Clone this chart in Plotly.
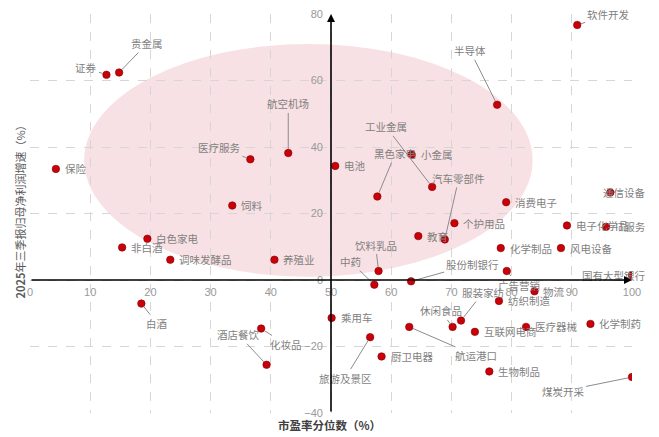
import plotly.graph_objects as go

# ---- data ----
industries = ["证券", "贵金属", "航空机场", "医疗服务", "保险", "饲料", "白色家电", "非白酒",
              "调味发酵品", "养殖业", "软件开发", "半导体", "电池", "黑色家电", "小金属", "工业金属",
              "汽车零部件", "教育", "个护用品", "消费电子", "通信设备", "电子化学品", "IT服务",
              "化学制品", "风电设备", "饮料乳品", "中药", "股份制银行", "广告营销", "国有大型银行",
              "物流", "纺织制造", "服装家纺", "休闲食品", "互联网电商", "医疗器械", "化学制药",
              "乘用车", "航运港口", "旅游及景区", "厨卫电器", "生物制品", "煤炭开采", "白酒",
              "化妆品", "酒店餐饮"]
pe_percentile = [12.7, 14.8, 42.9, 36.6, 4.3, 33.6, 19.5, 15.3,
                 23.3, 40.6, 90.9, 77.6, 50.7, 57.7, 63.4, 66.8,
                 68.9, 64.5, 70.5, 79.1, 96.4, 89.2, 95.7,
                 78.2, 88.2, 57.9, 57.2, 63.3, 79.2, 100.0,
                 83.8, 77.9, 71.6, 70.2, 73.9, 82.4, 93.1,
                 50.1, 63.0, 56.5, 58.4, 76.3, 100.0, 18.5,
                 38.4, 39.3]
profit_growth = [61.7, 62.4, 38.2, 36.3, 33.4, 22.4, 12.4, 9.8,
                 6.1, 6.1, 76.7, 52.7, 34.3, 25.1, 37.7, 28.0,
                 12.2, 13.2, 17.1, 23.4, 26.3, 16.4, 16.0,
                 9.6, 9.6, 2.7, -1.4, -0.4, 2.7, 1.4,
                 -3.4, -6.3, -12.2, -14.1, -15.6, -14.1, -13.2,
                 -11.4, -14.1, -17.2, -23.0, -27.5, -29.2, -7.1,
                 -14.6, -25.5]
x_ticks = [0, 10, 20, 30, 40, 50, 60, 70, 80, 90, 100]
y_ticks = [-40, -20, 0, 20, 40, 60, 80]
x_title = "<b>市盈率分位数（%）</b>"
y_title = "<b>2025</b>年三季报归母净利润增速（%）"

# ---- label placement (pixel offsets, style only) ----
leader = {
    "证券": (-20, -7), "贵金属": (28, -29), "航空机场": (0, -49), "医疗服务": (-31, -12),
    "软件开发": (31, -10), "半导体": (-27, -54), "黑色家电": (18, -43), "工业金属": (-46, -60),
    "汽车零部件": (14, -61), "饮料乳品": (-3, -26), "中药": (-24, -23), "股份制银行": (61, -17),
    "广告营销": (12, 14), "服装家纺": (22, -28), "休闲食品": (-12, -16), "航运港口": (67, 29),
    "旅游及景区": (-25, 41), "煤炭开采": (-69, 14), "白酒": (16, 20), "化妆品": (25, 16),
    "酒店餐饮": (-28, -30),
}
centered_shift = {"国有大型银行": -18, "通信设备": 14}

LABEL_FONT = dict(family="Noto Sans CJK SC", size=10.5, color="#7f7f7f")

fig = go.Figure()

fig.add_shape(type="circle", xref="x", yref="y", x0=9, x1=83.5, y0=1, y1=71,
              fillcolor="#f8e1e4", line=dict(width=0), layer="below")

fig.add_trace(go.Scatter(
    x=pe_percentile, y=profit_growth, mode="markers",
    marker=dict(size=7.5, color="#c8000a", line=dict(width=0.6, color="#8a0000")),
    hoverinfo="text", text=industries, showlegend=False,
))

annotations = []
for name, xv, yv in zip(industries, pe_percentile, profit_growth):
    if name in leader:
        ax, ay = leader[name]
        annotations.append(dict(x=xv, y=yv, xref="x", yref="y", text=name, showarrow=True,
                                ax=ax, ay=ay, arrowhead=0, arrowwidth=1, arrowcolor="#8c8c8c",
                                standoff=4, font=LABEL_FONT))
    elif name in centered_shift:
        annotations.append(dict(x=xv, y=yv, xref="x", yref="y", text=name, showarrow=False,
                                xanchor="center", xshift=centered_shift[name], font=LABEL_FONT))
    else:
        annotations.append(dict(x=xv, y=yv, xref="x", yref="y", text=name, showarrow=False,
                                xanchor="left", xshift=7, font=LABEL_FONT))

# axis lines with arrows
annotations.append(dict(x=100, y=0, ax=0, ay=0, xref="x", yref="y", axref="x", ayref="y",
                        text="", showarrow=True, arrowhead=2, arrowsize=1, arrowwidth=1.6,
                        arrowcolor="#000000", standoff=0))
annotations.append(dict(x=50, y=80, ax=50, ay=-40, xref="x", yref="y", axref="x", ayref="y",
                        text="", showarrow=True, arrowhead=2, arrowsize=1, arrowwidth=1.6,
                        arrowcolor="#000000", standoff=0))

# axis titles
annotations.append(dict(x=0.498, y=-0.03, xref="paper", yref="paper", text=x_title,
                        showarrow=False, xanchor="center", yanchor="middle",
                        font=dict(family="Noto Sans CJK SC", size=11.5, color="#404040")))
annotations.append(dict(x=-0.016, y=0.511, xref="paper", yref="paper", text=y_title,
                        showarrow=False, textangle=-90, xanchor="center", yanchor="middle",
                        font=dict(family="Noto Sans CJK SC", size=11, color="#595959")))

fig.update_layout(
    width=659, height=437,
    margin=dict(l=30, r=27, t=8, b=24),
    paper_bgcolor="white", plot_bgcolor="white",
    annotations=annotations,
    xaxis=dict(range=[0, 100], tickvals=x_ticks, showgrid=True, gridcolor="#d6d6d6",
               griddash="dash", gridwidth=1, zeroline=False, showline=False, ticks="",
               anchor="free", position=1/3, ticklabelstandoff=4,
               tickfont=dict(family="Liberation Sans", size=11, color="#999999")),
    yaxis=dict(range=[-40, 80], tickvals=y_ticks, showgrid=True, gridcolor="#d6d6d6",
               griddash="dash", gridwidth=1, zeroline=False, showline=False, ticks="",
               anchor="free", position=0.5, ticklabelstandoff=8,
               tickfont=dict(family="Liberation Sans", size=11, color="#999999")),
)

fig.write_html("out.html")
